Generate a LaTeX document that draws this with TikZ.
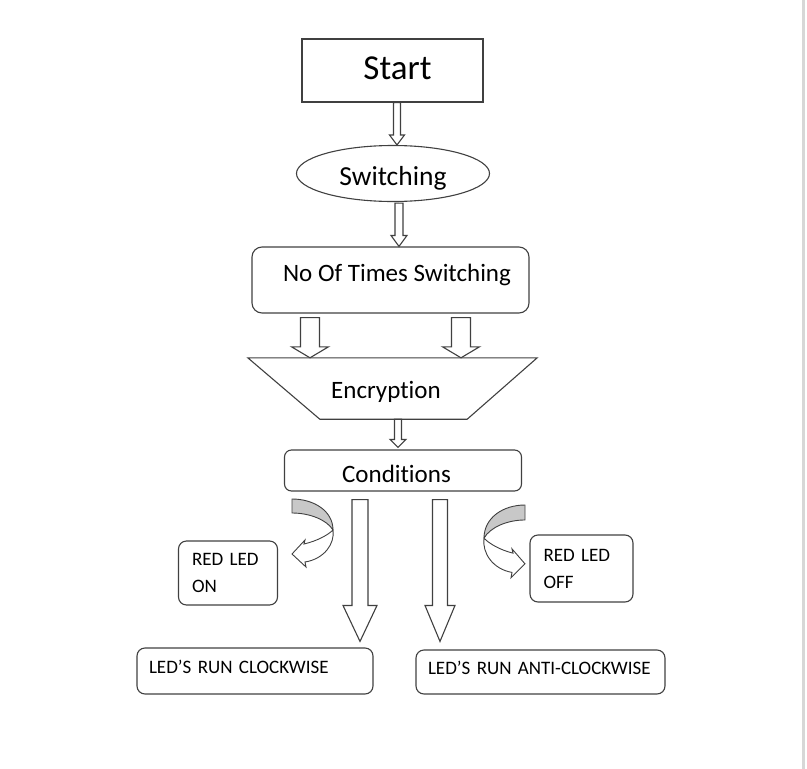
\documentclass[tikz,border=0pt]{standalone}
\usepackage{fontspec}
\setmainfont{Carlito}[Ligatures=NoCommon]
\usetikzlibrary{calc,shapes.geometric,positioning}
\definecolor{linegrey}{RGB}{64,64,64}
\definecolor{curvegrey}{RGB}{200,200,200}
\definecolor{edgegrey}{RGB}{215,215,215}

% hollow block arrow pointing down: start, tip, shaft half width, head half width, head length
\newcommand{\flowarrow}[5]{%
  \draw[myarrow] let \p1=(#1), \p2=(#2) in
    (\x1-#3,\y1) -- (\x1-#3,\y2+#5) -- (\x1-#4,\y2+#5) -- (\x1,\y2)
    -- (\x1+#4,\y2+#5) -- (\x1+#3,\y2+#5) -- (\x1+#3,\y1) -- cycle;}

\begin{document}
\begin{tikzpicture}[
  x=1pt, y=-1pt,
  myline/.style={draw=linegrey, line width=1.1pt},
  mybox/.style={
    myline,
    rectangle,
    inner sep=3pt,
    font=\fontsize{25}{30}\selectfont
    },
  mynote/.style={
    myline,
    rectangle,
    rounded corners=8pt,
    align=left,
    inner xsep=12pt,
    font=\fontsize{19}{27}\selectfont
    },
  myarrow/.style={myline, fill=white, line join=miter},
  mycurve/.pic={
    \filldraw[fill=curvegrey, draw=linegrey, line width=0.9pt]
      (0,0) .. controls (22,0) and (41,12) .. (41,31)
      .. controls (35,21) and (18,14) .. (0,14) -- cycle;
    \filldraw[fill=white, draw=linegrey, line width=0.9pt, line join=miter]
      (41,31) .. controls (43,45) and (32,60) .. (13,63) -- (14,68) -- (0,55)
      -- (13,41) -- (12,45) .. controls (25,42) and (36,36) .. (41,31) -- cycle;
  }
]
\useasboundingbox (0,0) rectangle (807,769);
\draw[draw=edgegrey, line width=2.5pt] (803.5,0) -- (803.5,769);

% boxes
\node[mybox, minimum width=181pt, minimum height=63pt,
  font=\fontsize{35}{40}\selectfont, text height=26pt, text depth=8.5pt]
  (start) at (392.5,70.5) {\hspace*{10pt}Start};
\node[myline, ellipse, minimum width=193pt, minimum height=56pt, inner sep=2pt,
  font=\fontsize{27.5}{32}\selectfont, text height=27pt, text depth=3.4pt]
  (switch) at (393,173.5) {Switching};
\node[mybox, rounded corners=10pt, minimum width=277pt, minimum height=66pt,
  text height=18.75pt, text depth=16.75pt]
  (times) at (390.5,280) {\hspace*{13pt}No Of Times Switching};
\node[rectangle, inner sep=3pt, minimum width=147pt, minimum height=61pt,
  font=\fontsize{25}{30}\selectfont, text height=25.8pt, text depth=5pt]
  (encrypt) at (393.5,388.5) {\hspace*{-15pt}Encryption};
\draw[myline, line join=miter] ($(encrypt.north west)+(-72,0)$) -- ($(encrypt.north east)+(70,0)$)
  -- (encrypt.south east) -- (encrypt.south west) -- cycle;
\node[mybox, rounded corners=7pt, minimum width=237pt, minimum height=41pt,
  text height=28pt, text depth=5pt]
  (cond) at (403,470.5) {\hspace*{-13pt}Conditions};

\node[mynote, minimum width=99pt, minimum height=64pt, text width=72pt]
  (redon) at (228,573) {RED LED\\ON};
\node[mynote, minimum width=103pt, minimum height=67pt, text width=76pt]
  (redoff) at (581.5,568.5) {RED LED\\OFF};
\node[mynote, minimum width=236pt, minimum height=46pt, text width=212pt,
  text height=14pt, text depth=9.8pt]
  (cw) at (255,671) {LED’S RUN CLOCKWISE};
\node[mynote, minimum width=249pt, minimum height=44pt, text width=225pt,
  text height=14pt, text depth=9pt]
  (acw) at (540.5,672) {LED’S RUN ANTI-CLOCKWISE};

% arrows
\flowarrow{$(start.south)+(4.5,0)$}{switch.north}{3.5pt}{7.5pt}{10pt}
\flowarrow{$(switch.south)+(6,1)$}{times.north}{4pt}{8pt}{11pt}
\foreach \dx in {-80.5,70.5}{
  \flowarrow{$(times.south)+(\dx,4)$}{encrypt.north}{9.5pt}{18.5pt}{11pt}
}
\flowarrow{$(encrypt.south)+(4.5,0)$}{$(cond.north)+(0,-2)$}{3.5pt}{8pt}{8pt}
\flowarrow{$(cond.south)+(-43,8)$}{$(cw.north)+(0,-6)$}{8pt}{17pt}{36pt}
\flowarrow{$(cond.south)+(37,8)$}{$(acw.north)+(0,-8)$}{7.5pt}{15pt}{36pt}

\pic at (292,499) {mycurve};
\pic[xscale=-1, yscale=1.07] at (525,505) {mycurve};

\end{tikzpicture}
\end{document}
